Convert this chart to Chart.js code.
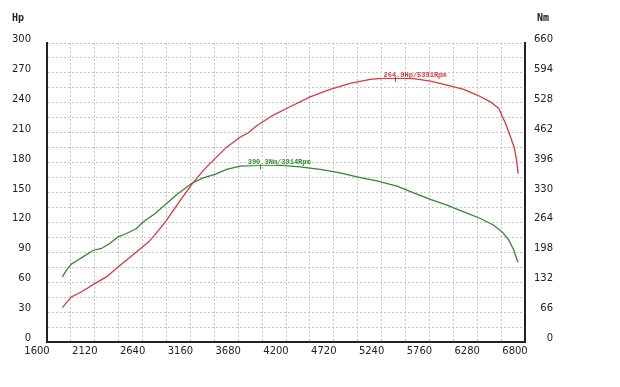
<!DOCTYPE html>
<html>
<head>
<meta charset="utf-8">
<script src="https://cdn.jsdelivr.net/npm/chart.js@4"></script>
<style>
  html, body { margin: 0; padding: 0; background: #fff; }
  #wrap { width: 620px; height: 387px; }
</style>
</head>
<body>
<div id="wrap"><canvas id="dynoChart" width="620" height="387"></canvas></div>
<script>
// tick labels
const rpmTicks = [1600, 2120, 2640, 3160, 3680, 4200, 4720, 5240, 5760, 6280, 6800];
const hpTicks = [0, 30, 60, 90, 120, 150, 180, 210, 240, 270, 300];
const nmTicks = [0, 66, 132, 198, 264, 330, 396, 462, 528, 594, 660];

// power curve (Hp)
const powerRpm = [1767, 1865, 1991, 2119, 2246, 2373, 2500, 2609, 2700, 2773, 2900, 3027, 3173, 3299, 3427, 3554, 3700, 3790, 3881, 4062, 4244, 4462, 4680, 4898, 5116, 5244, 5391, 5589, 5770, 5952, 6133, 6280, 6424, 6515, 6588, 6642, 6686, 6708, 6726];
const powerHp = [34.5, 45.2, 51.2, 58.6, 65.3, 75.3, 84.8, 93, 100, 107.5, 122, 139, 158, 172, 184, 195.5, 205.5, 210, 217, 227.7, 236, 246, 253.5, 259.5, 263.5, 264.5, 264.9, 264.2, 261.8, 257.8, 253.5, 247.8, 241, 234.4, 219.3, 206, 194.2, 182.5, 169];

// torque curve (Nm)
const torqueRpm = [1767, 1810, 1865, 1930, 1991, 2100, 2192, 2282, 2373, 2464, 2573, 2645, 2773, 2900, 3027, 3173, 3299, 3427, 3554, 3700, 3845, 3914, 4154, 4353, 4571, 4789, 4971, 5189, 5407, 5589, 5770, 5952, 6133, 6315, 6460, 6551, 6624, 6679, 6715, 6726];
const torqueNm = [143.6, 158, 172, 180, 187.8, 202, 206.4, 217.4, 232, 239.5, 250.5, 265, 283, 305.8, 327.9, 350, 362.4, 369.9, 381, 388.2, 389.5, 390.3, 389.8, 386.7, 381, 373.4, 364.6, 355.7, 344, 329.2, 314.6, 302, 287.2, 272.6, 257.8, 243, 224.7, 202.6, 180.5, 176];

// peak labels
const peakLabels = [
  { text: '264.9Hp/5391Rpm', rpm: 5391, value: 264.9, axis: 'y', color: '#d8383c' },
  { text: '390.3Nm/3914Rpm', rpm: 3914, value: 390.3, axis: 'y2', color: '#2f8a2f' }
];

const RED = '#d8383c';
const GREEN = '#2f8a2f';

// grid lines sit between the labelled ticks as well
function withMidpoints(list) {
  const out = [];
  list.forEach((v, i) => {
    out.push(v);
    if (i < list.length - 1) out.push((v + list[i + 1]) / 2);
  });
  return out;
}

const peakPlugin = {
  id: 'peaks',
  afterDatasetsDraw(chart) {
    const ctx = chart.ctx;
    const xs = chart.scales.x;
    peakLabels.forEach(p => {
      const px = xs.getPixelForValue(p.rpm);
      const py = chart.scales[p.axis].getPixelForValue(p.value);
      ctx.save();
      ctx.fillStyle = '#fff';
      ctx.fillRect(px - 14, py - 8, 30, 8);
      ctx.font = 'bold 7px "Liberation Mono"';
      ctx.fillStyle = p.color;
      ctx.textBaseline = 'middle';
      ctx.textAlign = 'left';
      ctx.fillText(p.text, px - 12, py - 3);
      ctx.strokeStyle = p.color;
      ctx.lineWidth = 1;
      ctx.beginPath();
      ctx.moveTo(Math.round(px) + 0.5, py - 1);
      ctx.lineTo(Math.round(px) + 0.5, py + 4);
      ctx.stroke();
      ctx.restore();
    });
  },
  afterDraw(chart) {
    const ctx = chart.ctx;
    ctx.save();
    ctx.font = 'bold 10px "DejaVu Sans Mono"';
    ctx.fillStyle = '#222';
    ctx.textBaseline = 'middle';
    ctx.textAlign = 'left';
    ctx.fillText('Hp', 12, 18);
    ctx.fillText('Nm', 537, 18);
    ctx.restore();
  }
};

Chart.defaults.font.family = 'DejaVu Sans';
Chart.defaults.font.size = 10;
Chart.defaults.color = '#222';

const gridStyle = { color: '#c4c4c4', lineWidth: 1, drawTicks: false };
const borderStyle = { color: '#222', width: 2, dash: [2, 2] };

new Chart(document.getElementById('dynoChart'), {
  type: 'line',
  data: {
    datasets: [
      {
        label: 'Hp',
        data: powerRpm.map((r, i) => ({ x: r, y: powerHp[i] })),
        borderColor: RED,
        borderWidth: 1.3,
        pointRadius: 0,
        tension: 0,
        yAxisID: 'y'
      },
      {
        label: 'Nm',
        data: torqueRpm.map((r, i) => ({ x: r, y: torqueNm[i] })),
        borderColor: GREEN,
        borderWidth: 1.3,
        pointRadius: 0,
        tension: 0,
        yAxisID: 'y2'
      }
    ]
  },
  options: {
    responsive: false,
    animation: false,
    devicePixelRatio: 1,
    layout: { padding: { top: 43, left: 0, right: 67, bottom: 0 } },
    plugins: { legend: { display: false }, tooltip: { enabled: false } },
    scales: {
      x: {
        type: 'linear',
        min: rpmTicks[0],
        max: rpmTicks[rpmTicks.length - 1],
        grid: gridStyle,
        border: borderStyle,
        afterBuildTicks: s => { s.ticks = withMidpoints(rpmTicks).map(v => ({ value: v })); },
        afterFit: s => { s.height = 45; },
        ticks: {
          autoSkip: false,
          maxRotation: 0,
          padding: 3,
          labelOffset: -10,
          callback: v => rpmTicks.includes(v) ? String(v) : ''
        }
      },
      y: {
        position: 'left',
        min: hpTicks[0],
        max: hpTicks[hpTicks.length - 1],
        grid: gridStyle,
        border: borderStyle,
        afterBuildTicks: s => { s.ticks = withMidpoints(hpTicks).map(v => ({ value: v })); },
        afterFit: s => { s.width = 47; },
        ticks: {
          autoSkip: false,
          padding: 16,
          labelOffset: -3.5,
          callback: v => hpTicks.includes(v) ? String(v) : ''
        }
      },
      y2: {
        position: 'right',
        min: nmTicks[0],
        max: nmTicks[nmTicks.length - 1],
        grid: { display: false, drawTicks: false },
        border: { color: '#222', width: 2 },
        afterBuildTicks: s => { s.ticks = nmTicks.map(v => ({ value: v })); },
        afterFit: s => { s.width = 28; },
        ticks: {
          autoSkip: false,
          padding: 9,
          crossAlign: 'far',
          labelOffset: -3.5,
          callback: v => String(v)
        }
      }
    }
  },
  plugins: [peakPlugin]
});
</script>
</body>
</html>
